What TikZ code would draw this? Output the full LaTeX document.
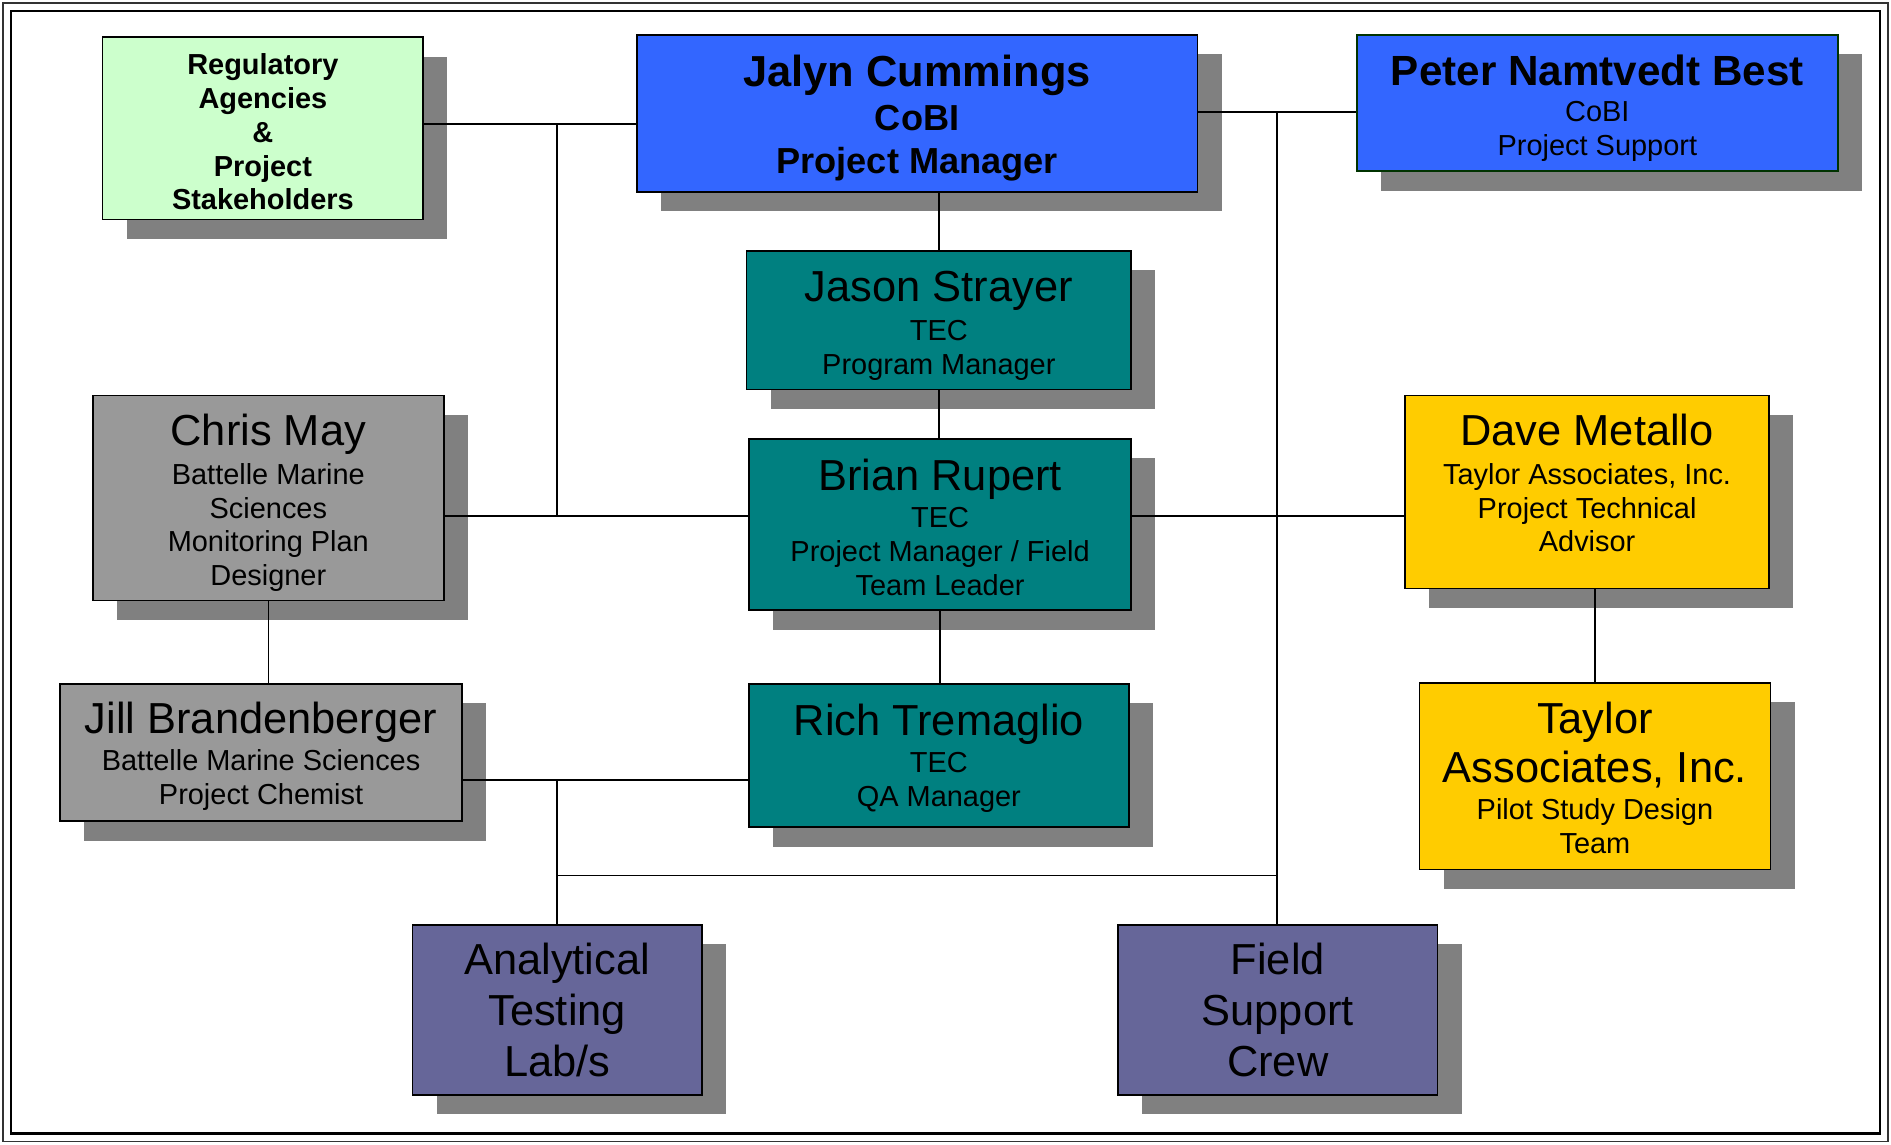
\documentclass[tikz,border=0pt]{standalone}
\usepackage{fontspec}
\setmainfont{Liberation Sans}
\usetikzlibrary{shadows}
\definecolor{regGreen}{HTML}{CCFFCC}
\definecolor{cobiBlue}{HTML}{3366FF}
\definecolor{tecTeal}{HTML}{008080}
\definecolor{bmsGray}{HTML}{999999}
\definecolor{taiGold}{HTML}{FFCC00}
\definecolor{crewPurple}{HTML}{666699}
\definecolor{shadowGray}{HTML}{808080}
\definecolor{peterEdge}{RGB}{0,51,0}
\newcommand{\bigname}[1]{{\fontsize{36}{42}\selectfont #1}}
\newcommand{\padtop}[1]{\rule{0pt}{#1}}          % pushes text down
\newcommand{\padbot}[1]{\rule[-#1]{0pt}{#1}}     % pushes text up
\tikzset{
  orgbox/.style={rectangle, draw=black, line width=1.5pt, inner sep=0pt, align=center, font=\fontsize{24}{28}\selectfont, general shadow={fill=shadowGray, shadow xshift=20pt, shadow yshift=-16pt}},
  cobi/.style={orgbox, fill=cobiBlue},
  tec/.style={orgbox, fill=tecTeal},
  bms/.style={orgbox, fill=bmsGray},
  tai/.style={orgbox, fill=taiGold},
  crew/.style={orgbox, fill=crewPurple, font=\fontsize{36}{42}\selectfont},
  link/.style={line width=1.3pt, draw=black}
}

\begin{document}
\begin{tikzpicture}[x=1pt, y=-1pt]
  \useasboundingbox (0,0) rectangle (1568,949);
  % double frame
  \draw[line width=1.2pt, black!80] (2.5,2.5) rectangle (1565.5,946.5);
  \draw[line width=2.2pt] (9,9) rectangle (1559,940);

  % top row
  \node[orgbox, fill=regGreen, minimum width=266pt, minimum height=151pt, font=\bfseries\fontsize{24}{28}\selectfont] (reg) at (218,106.5) {\padtop{23.5pt}Regulatory\\Agencies\\\&\\Project\\Stakeholders};
  \node[cobi, minimum width=465pt, minimum height=130pt, font=\bfseries\fontsize{30}{36}\selectfont] (jalyn) at (760.5,94) {\padtop{34.3pt}\bigname{Jalyn Cummings}\\CoBI\\Project Manager};
  \node[cobi, draw=peterEdge, minimum width=399pt, minimum height=113pt] (peter) at (1324.5,85.5) {\padtop{33.5pt}{\bfseries\fontsize{35}{42}\selectfont Peter Namtvedt Best}\\[2pt]CoBI\\Project Support};

  % TEC chain
  \node[tec, minimum width=319pt, minimum height=115pt] (jason) at (778.5,265.5) {\padtop{34.3pt}\bigname{Jason Strayer}\\[4pt]TEC\\Program Manager};
  \node[tec, minimum width=317pt, minimum height=142pt] (brian) at (779.5,435) {\padtop{30.3pt}\bigname{Brian Rupert}\\[3pt]TEC\\Project Manager / Field\\Team Leader};
  \node[tec, minimum width=315pt, minimum height=119pt] (rich) at (778.5,626.5) {\padtop{30.3pt}\bigname{Rich Tremaglio}\\[3pt]TEC\\QA Manager};

  % Battelle
  \node[bms, minimum width=291pt, minimum height=170pt] (chris) at (222.5,413) {\padtop{34.3pt}\bigname{Chris May}\\[4pt]Battelle Marine\\Sciences\\Monitoring Plan\\Designer};
  \node[bms, minimum width=333pt, minimum height=114pt] (jill) at (216.5,624) {\padtop{32.3pt}\bigname{Jill Brandenberger}\\[3pt]Battelle Marine Sciences\\Project Chemist};

  % Taylor Associates
  \node[tai, minimum width=302pt, minimum height=160pt] (dave) at (1316,408) {\bigname{Dave Metallo}\\[4pt]Taylor Associates, Inc.\\Project Technical\\Advisor\padbot{15pt}};
  \node[tai, minimum width=291pt, minimum height=155pt] (taylor) at (1322.5,643.5) {\padtop{29.3pt}\bigname{Taylor}\\[6pt]\bigname{Associates, Inc.}\\[3pt]Pilot Study Design\\Team};

  % bottom row
  \node[crew, minimum width=240pt, minimum height=141pt] (labs) at (462,837.5) {Analytical\\Testing\\Lab/s};
  \node[crew, minimum width=265pt, minimum height=141pt] (field) at (1059.5,837.5) {Field\\Support\\Crew};

  % junctions
  \coordinate (regJ) at (462,103);
  \coordinate (midJ) at (462,428);
  \coordinate (peterJ) at (1059,93);
  \coordinate (jillJ) at (462,647);
  \coordinate (busJ) at (462,726);

  % connectors
  \draw[link] (reg.east |- regJ) -- (jalyn.west |- regJ);
  \draw[link] (regJ) -- (midJ);
  \draw[link] (chris.east |- midJ) -- (brian.west |- midJ);
  \draw[link] (brian.east |- midJ) -- (dave.west |- midJ);
  \draw[link] (jalyn.east |- peterJ) -- (peter.west |- peterJ);
  \draw[link] (peterJ) -- (peterJ |- field.north);
  \draw[link] (jason.north |- jalyn.south) -- (jason.north);
  \draw[link] (jason.south) -- (jason.south |- brian.north);
  \draw[link] (brian.south) -- (brian.south |- rich.north);
  \draw[link] (chris.south) -- (chris.south |- jill.north);
  \draw[link] (taylor.north |- dave.south) -- (taylor.north);
  \draw[link] (jill.east |- jillJ) -- (rich.west |- jillJ);
  \draw[link] (jillJ) -- (labs.north);
  \draw[link] (busJ) -- (peterJ |- busJ);
\end{tikzpicture}
\end{document}
